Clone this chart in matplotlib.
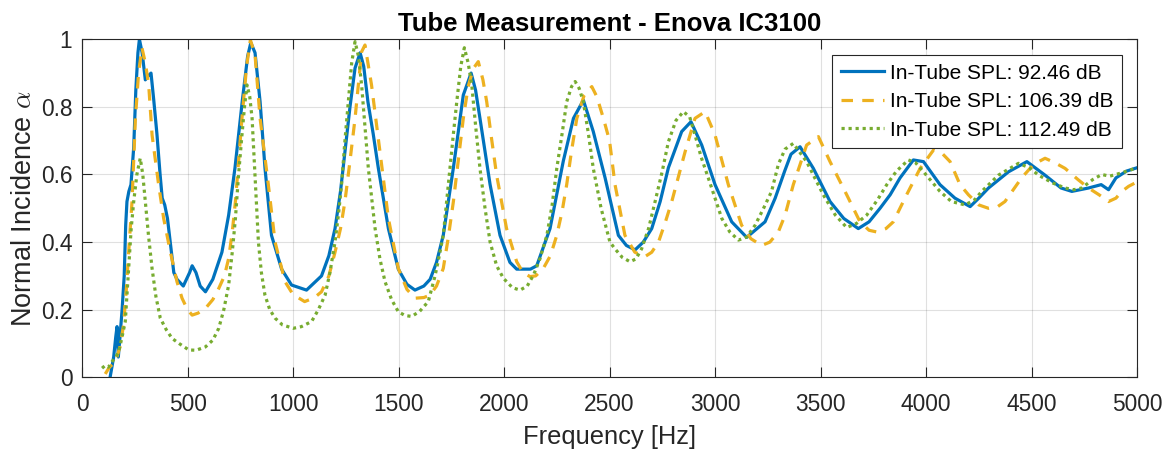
import matplotlib
matplotlib.use("Agg")
import matplotlib.pyplot as plt

# valori (frequenza [Hz], coefficiente di assorbimento)
freq_92 = [100, 120, 133, 150, 160, 166, 172, 180, 190, 200, 207, 213, 222, 232, 245, 255, 265, 272,
           285, 300, 312, 327, 340, 355, 370, 380, 392, 405, 420, 435, 450, 465, 480, 495, 510, 522,
           540, 560, 585, 620, 663, 695, 725, 760, 785, 800, 820, 844, 867, 898, 946, 993, 1064, 1135,
           1170, 1199, 1225, 1246, 1270, 1294, 1318, 1335, 1355, 1380, 1404, 1452, 1499, 1540, 1578,
           1620, 1650, 1680, 1712, 1760, 1807, 1844, 1865, 1886, 1934, 1981, 2028, 2060, 2092, 2125,
           2155, 2218, 2281, 2329, 2376, 2423, 2479, 2542, 2580, 2621, 2660, 2700, 2740, 2779, 2842,
           2886, 2937, 3000, 3079, 3150, 3237, 3285, 3330, 3360, 3403, 3466, 3545, 3610, 3679, 3730,
           3782, 3830, 3877, 3940, 3988, 4066, 4137, 4209, 4250, 4296, 4391, 4478, 4564, 4640, 4691,
           4770, 4830, 4865, 4900, 4950, 5000]
alpha_92 = [-0.05, -0.02, 0.0, 0.06, 0.12, 0.15, 0.06, 0.12, 0.2, 0.3, 0.45, 0.52, 0.55, 0.57, 0.68,
            0.85, 0.96, 1.0, 0.96, 0.88, 0.89, 0.9, 0.82, 0.72, 0.6, 0.53, 0.51, 0.47, 0.39, 0.31,
            0.29, 0.28, 0.27, 0.29, 0.31, 0.33, 0.31, 0.27, 0.253, 0.29, 0.37, 0.48, 0.62, 0.82, 0.95,
            0.99, 0.96, 0.815, 0.62, 0.42, 0.32, 0.273, 0.258, 0.30, 0.36, 0.44, 0.55, 0.667, 0.8,
            0.915, 0.96, 0.92, 0.815, 0.72, 0.62, 0.44, 0.32, 0.275, 0.258, 0.27, 0.29, 0.34, 0.42,
            0.62, 0.835, 0.90, 0.85, 0.766, 0.57, 0.42, 0.34, 0.32, 0.32, 0.32, 0.33, 0.44, 0.64,
            0.766, 0.82, 0.727, 0.59, 0.42, 0.39, 0.377, 0.40, 0.44, 0.52, 0.62, 0.727, 0.756, 0.687,
            0.57, 0.46, 0.414, 0.46, 0.53, 0.61, 0.66, 0.682, 0.618, 0.52, 0.47, 0.44, 0.46, 0.50,
            0.54, 0.59, 0.643, 0.638, 0.57, 0.53, 0.505, 0.53, 0.56, 0.608, 0.638, 0.598, 0.56, 0.55,
            0.56, 0.57, 0.555, 0.59, 0.61, 0.62]

freq_106 = [110, 130, 158, 180, 197, 210, 221, 237, 253, 268, 284, 300, 316, 332, 348, 363, 387, 419,
            450, 474, 500, 522, 550, 585, 620, 648, 675, 695, 712, 727, 742, 758, 780, 798, 820, 844,
            865, 883, 915, 962, 1000, 1055, 1100, 1135, 1170, 1199, 1225, 1246, 1270, 1294, 1325,
            1341, 1372, 1412, 1452, 1499, 1540, 1578, 1620, 1649, 1680, 1712, 1735, 1760, 1785, 1807,
            1830, 1855, 1878, 1900, 1918, 1940, 1965, 2012, 2060, 2090, 2123, 2150, 2186, 2220, 2250,
            2275, 2297, 2320, 2345, 2380, 2416, 2440, 2471, 2500, 2526, 2573, 2620, 2668, 2700, 2732,
            2765, 2795, 2858, 2905, 2953, 3000, 3063, 3126, 3170, 3221, 3260, 3300, 3332, 3371, 3434,
            3490, 3545, 3624, 3687, 3730, 3766, 3810, 3845, 3908, 3972, 4035, 4080, 4114, 4161, 4201,
            4250, 4296, 4340, 4374, 4453, 4510, 4564, 4610, 4659, 4720, 4770, 4820, 4865, 4900, 4928,
            4960, 5000]
alpha_106 = [0.01, 0.03, 0.046, 0.09, 0.155, 0.26, 0.37, 0.52, 0.766, 0.9, 0.975, 0.93, 0.865, 0.717,
             0.64, 0.57, 0.47, 0.37, 0.283, 0.234, 0.2, 0.184, 0.19, 0.204, 0.23, 0.263, 0.3, 0.352,
             0.43, 0.52, 0.64, 0.766, 0.92, 0.998, 0.953, 0.766, 0.66, 0.57, 0.40, 0.283, 0.245,
             0.224, 0.235, 0.253, 0.3, 0.37, 0.44, 0.52, 0.64, 0.766, 0.963, 0.983, 0.865, 0.667,
             0.47, 0.322, 0.26, 0.234, 0.236, 0.243, 0.27, 0.322, 0.41, 0.52, 0.65, 0.766, 0.86,
             0.914, 0.934, 0.88, 0.815, 0.71, 0.598, 0.44, 0.342, 0.31, 0.298, 0.3, 0.322, 0.36,
             0.42, 0.49, 0.57, 0.67, 0.766, 0.835, 0.86, 0.83, 0.766, 0.7, 0.57, 0.42, 0.37, 0.357,
             0.37, 0.40, 0.46, 0.52, 0.667, 0.766, 0.786, 0.717, 0.57, 0.45, 0.41, 0.39, 0.40, 0.43,
             0.48, 0.57, 0.687, 0.712, 0.638, 0.54, 0.46, 0.435, 0.43, 0.44, 0.46, 0.54, 0.618,
             0.672, 0.66, 0.638, 0.57, 0.54, 0.51, 0.50, 0.505, 0.52, 0.59, 0.63, 0.648, 0.635,
             0.618, 0.585, 0.56, 0.54, 0.52, 0.53, 0.55, 0.565, 0.578]

freq_112 = [95, 110, 125, 142, 160, 174, 190, 205, 221, 233, 245, 260, 276, 288, 300, 315, 332, 350,
            371, 400, 427, 460, 506, 540, 585, 620, 648, 672, 695, 712, 727, 742, 758, 770, 782, 795,
            806, 814, 822, 836, 850, 867, 890, 915, 950, 1001, 1040, 1088, 1120, 1152, 1175, 1199,
            1215, 1230, 1246, 1262, 1278, 1294, 1310, 1325, 1341, 1357, 1373, 1389, 1412, 1436, 1467,
            1499, 1530, 1562, 1600, 1641, 1673, 1690, 1712, 1728, 1744, 1760, 1776, 1795, 1812, 1830,
            1847, 1866, 1886, 1910, 1934, 1965, 1997, 2040, 2076, 2110, 2140, 2170, 2203, 2228, 2250,
            2275, 2297, 2320, 2337, 2356, 2376, 2400, 2423, 2460, 2502, 2526, 2560, 2597, 2625, 2652,
            2685, 2716, 2750, 2779, 2815, 2850, 2880, 2905, 2935, 2968, 3000, 3032, 3070, 3111, 3150,
            3190, 3230, 3268, 3300, 3332, 3371, 3434, 3513, 3570, 3624, 3670, 3719, 3770, 3814, 3860,
            3916, 3950, 3988, 4066, 4120, 4185, 4230, 4264, 4343, 4438, 4490, 4533, 4600, 4659, 4700,
            4738, 4790, 4833, 4870, 4928, 5000]
alpha_112 = [0.027, 0.035, 0.03, 0.046, 0.06, 0.076, 0.12, 0.165, 0.32, 0.44, 0.52, 0.6, 0.648, 0.6,
             0.52, 0.42, 0.322, 0.24, 0.175, 0.14, 0.115, 0.1, 0.081, 0.08, 0.09, 0.11, 0.145, 0.2,
             0.273, 0.37, 0.47, 0.6, 0.717, 0.8, 0.865, 0.83, 0.766, 0.67, 0.57, 0.40, 0.31, 0.243,
             0.2, 0.175, 0.155, 0.145, 0.15, 0.165, 0.2, 0.243, 0.31, 0.40, 0.48, 0.57, 0.7, 0.815,
             0.93, 0.993, 0.95, 0.865, 0.74, 0.618, 0.53, 0.44, 0.35, 0.283, 0.23, 0.194, 0.183,
             0.18, 0.195, 0.224, 0.3, 0.35, 0.42, 0.52, 0.618, 0.72, 0.815, 0.92, 0.975, 0.93, 0.865,
             0.74, 0.618, 0.5, 0.40, 0.33, 0.293, 0.265, 0.258, 0.27, 0.303, 0.35, 0.42, 0.51, 0.618,
             0.72, 0.815, 0.86, 0.875, 0.855, 0.815, 0.72, 0.618, 0.5, 0.40, 0.38, 0.355, 0.342,
             0.35, 0.38, 0.44, 0.52, 0.61, 0.697, 0.76, 0.786, 0.77, 0.717, 0.65, 0.59, 0.53, 0.47,
             0.43, 0.406, 0.415, 0.45, 0.5, 0.55, 0.63, 0.675, 0.692, 0.638, 0.54, 0.48, 0.443,
             0.455, 0.48, 0.525, 0.57, 0.61, 0.643, 0.635, 0.608, 0.55, 0.52, 0.51, 0.525, 0.55,
             0.598, 0.633, 0.62, 0.598, 0.575, 0.56, 0.555, 0.56, 0.585, 0.60, 0.595, 0.605, 0.62]

etichette = ["In-Tube SPL: 92.46 dB", "In-Tube SPL: 106.39 dB", "In-Tube SPL: 112.49 dB"]
tick_x = [0, 500, 1000, 1500, 2000, 2500, 3000, 3500, 4000, 4500, 5000]
tick_y = [0, 0.2, 0.4, 0.6, 0.8, 1]
tick_y_label = ["0", "0.2", "0.4", "0.6", "0.8", "1"]

grigio = "#262626"
plt.rcParams["font.family"] = ["Liberation Sans", "DejaVu Sans"]
plt.rcParams["mathtext.fontset"] = "cm"

fig = plt.figure(figsize=(11.65, 4.51), dpi=100)
ax = fig.add_axes([0.0704, 0.1634, 0.9056, 0.7495])

ax.plot(freq_92, alpha_92, color="#0072BD", lw=2.3, label=etichette[0])
ax.plot(freq_106, alpha_106, color="#EDB120", lw=2.3, dashes=(3.6, 2.9), label=etichette[1])
ax.plot(freq_112, alpha_112, color="#77AC30", lw=2.3, dashes=(1.0, 1.2), label=etichette[2])

ax.set_xlim(0, 5000)
ax.set_ylim(0, 1)
ax.set_xticks(tick_x)
ax.set_yticks(tick_y)
ax.set_yticklabels(tick_y_label)
ax.grid(True, color="#000000", alpha=0.12, lw=0.8)
ax.tick_params(direction="in", length=7.5, width=0.8, top=True, right=True,
               labelsize=16.4, colors=grigio, pad=7)
ax.tick_params(axis="x", pad=11)
for s in ax.spines.values():
    s.set_color(grigio)
    s.set_linewidth(0.8)

ax.set_xlabel("Frequency [Hz]", fontsize=18.4, color=grigio, labelpad=7)
ax.set_ylabel("Normal Incidence $\\alpha$", fontsize=19.5, color=grigio, labelpad=2.5)
ax.set_title("Tube Measurement - Enova IC3100", fontsize=18.5, fontweight="bold", pad=6)

leg = ax.legend(loc="upper right", bbox_to_anchor=(0.986, 0.954), fontsize=15,
                fancybox=False, framealpha=1, edgecolor=grigio, borderaxespad=0,
                handlelength=2.07, handletextpad=0.3, borderpad=0.42, labelspacing=0.46)
leg.get_frame().set_linewidth(0.8)

fig.savefig("out.png", dpi=100)
